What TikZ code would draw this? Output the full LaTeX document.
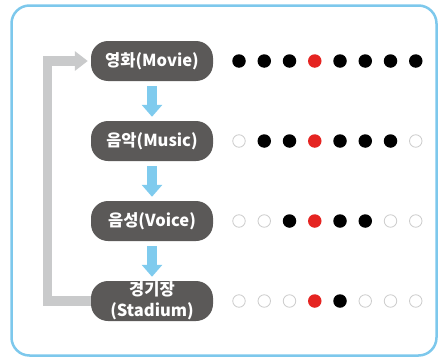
\documentclass[tikz,border=0pt]{standalone}
\usepackage{fontspec}
\newfontfamily\krfont{Noto Sans CJK KR}
\usetikzlibrary{arrows.meta}

\definecolor{boxblue}{HTML}{7DC8EC}
\definecolor{arrowblue}{HTML}{7FCBEE}
\definecolor{pillgray}{HTML}{5B5958}
\definecolor{linegray}{HTML}{C9CACB}
\definecolor{dotred}{HTML}{E52421}
\definecolor{ringgray}{HTML}{CDCDCD}

\tikzset{
	pill/.style={fill=pillgray, text=white, rounded corners=17pt, minimum width=122pt,
		minimum height=40pt, inner sep=0pt, align=center,
		font=\krfont\bfseries\fontsize{16.5}{21}\selectfont},
	flow/.style={arrowblue, line width=10pt, -{Triangle[width=20pt,length=12pt]},
		shorten <=5pt, shorten >=4pt},
	back/.style={linegray, line width=9.5pt, -{Triangle[width=19pt,length=13pt]},
		shorten >=3pt},
	dotb/.style={circle, fill=black, minimum size=13.5pt, inner sep=0pt},
	dotr/.style={circle, fill=dotred, minimum size=13.5pt, inner sep=0pt},
	doto/.style={circle, draw=ringgray, line width=0.8pt, fill=white, minimum size=12.5pt, inner sep=0pt}
}

\begin{document}
\begin{tikzpicture}[x=1pt,y=-1pt]
	\useasboundingbox (0,0) rectangle (442,359);
	\draw[boxblue, line width=2.5pt, rounded corners=18pt] (11.5,5.5) rectangle (436.5,355.5);

	% categories
	\node[pill] (movie) at (152,61) {영화(Movie)};
	\node[pill] (music) at (152,141) {음악(Music)};
	\node[pill] (voice) at (152,221) {음성(Voice)};
	\node[pill] (stadium) at (152,301) {경기장\\(Stadium)};

	\draw[flow] (movie) -- (music);
	\draw[flow] (music) -- (voice);
	\draw[flow] (voice) -- (stadium);

	% loop back
	\coordinate (lowturn) at (47.5,301);
	\coordinate (highturn) at (47.5,61);
	\draw[back] (stadium.west) -- (lowturn) -- (highturn) -- (movie.west);

	% dot rows
	\foreach \s [count=\i] in {b,b,b,r,b,b,b,b}
		\node[dot\s] (a\i) at (239+25.25*\i-25.25,61) {};
	\foreach \s [count=\i] in {o,b,b,r,b,b,b,o}
		\node[dot\s] (b\i) at (239+25.25*\i-25.25,141) {};
	\foreach \s [count=\i] in {o,o,b,r,b,b,o,o}
		\node[dot\s] (c\i) at (239+25.25*\i-25.25,221) {};
	\foreach \s [count=\i] in {o,o,o,r,b,o,o,o}
		\node[dot\s] (d\i) at (239+25.25*\i-25.25,301) {};
\end{tikzpicture}
\end{document}
